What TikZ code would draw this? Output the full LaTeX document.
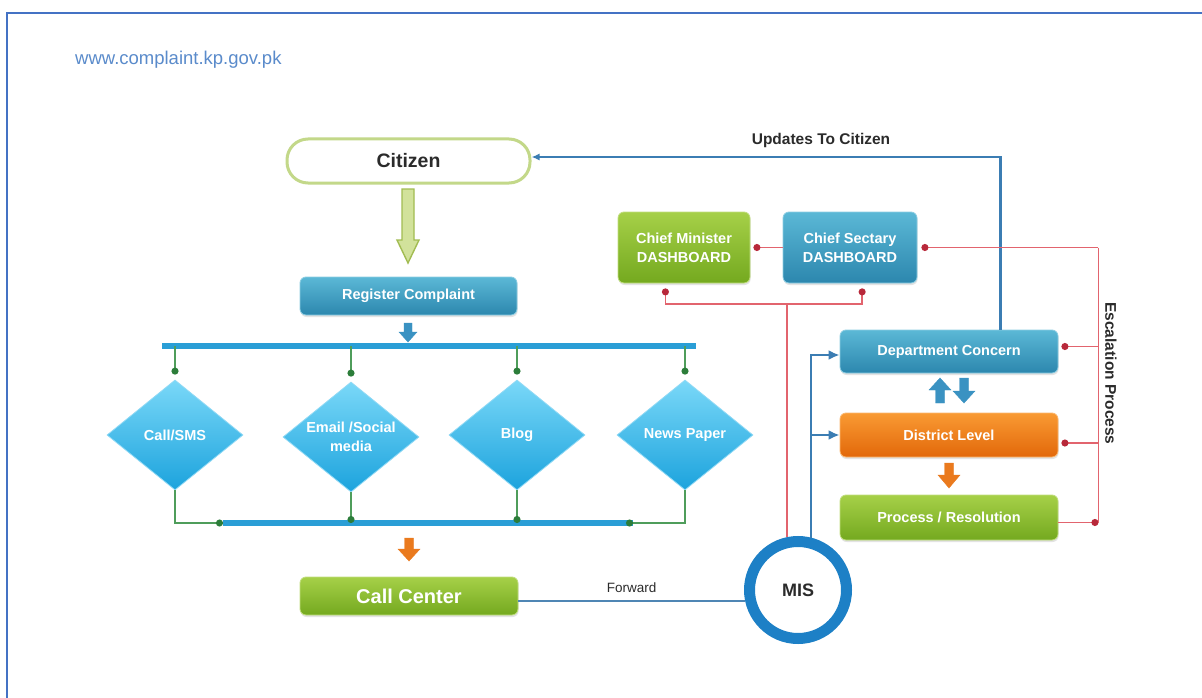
\documentclass[tikz,border=0pt]{standalone}
\usepackage{fontspec}
\setmainfont{Liberation Sans}
\usetikzlibrary{arrows.meta,shapes.geometric,calc,shadows}

\definecolor{grTop}{HTML}{A6D048}
\definecolor{grBot}{HTML}{74A91F}
\definecolor{blTop}{HTML}{5BB8D6}
\definecolor{blBot}{HTML}{2C87AE}
\definecolor{orTop}{HTML}{F99A33}
\definecolor{orBot}{HTML}{E2680A}
\definecolor{dmTop}{HTML}{7AD8F8}
\definecolor{dmBot}{HTML}{1CA3DD}
\definecolor{dmEdge}{HTML}{8FD9F5}
\definecolor{busBlue}{HTML}{2A9ED6}
\definecolor{linkBlue}{HTML}{3B7DB3}
\definecolor{fwdBlue}{HTML}{4F86B4}
\definecolor{escRed}{HTML}{E2646E}
\definecolor{dotRed}{HTML}{B8283A}
\definecolor{linkGreen}{HTML}{4F9D5B}
\definecolor{dotGreen}{HTML}{2C7D3A}
\definecolor{frameBlue}{HTML}{4472C4}
\definecolor{urlBlue}{HTML}{5A8BCB}
\definecolor{citEdge}{HTML}{C3D889}
\definecolor{misBlue}{HTML}{1D80C6}
\definecolor{txtDark}{HTML}{2B2B2B}
\definecolor{arrGreenFill}{HTML}{D2E29B}
\definecolor{arrGreenEdge}{HTML}{A2BC52}
\definecolor{arrBlue}{HTML}{3A92C2}
\definecolor{arrOrange}{HTML}{EA7A1E}

% block arrow: x, y start, y head base, y tip, shaft half width, head half width, style
\newcommand{\bkarrow}[7]{%
  \filldraw[#7] ({#1-#5},#2) -- ({#1+#5},#2) -- ({#1+#5},#3) -- ({#1+#6},#3)
    -- (#1,#4) -- ({#1-#6},#3) -- ({#1-#5},#3) -- cycle;}

\tikzset{
  lbl/.style={text=white, font=\fontsize{14.5}{19}\selectfont\bfseries, align=center},
  rbox/.style={lbl, rounded corners=6pt, inner sep=0pt, line width=0.8pt,
    drop shadow={shadow xshift=0.6pt, shadow yshift=-2pt, opacity=0.22}},
  greenbox/.style={rbox, top color=grTop, bottom color=grBot, draw=grTop!70!white},
  bluebox/.style={rbox, top color=blTop, bottom color=blBot, draw=blTop!70!white},
  orangebox/.style={rbox, top color=orTop, bottom color=orBot, draw=orTop!70!white},
  diam/.style={shape=diamond, minimum width=136pt, minimum height=110pt, inner sep=0pt,
    top color=dmTop, bottom color=dmBot, draw=dmEdge, line width=0.8pt},
  bus/.style={draw=busBlue, line width=5.5pt},
  glink/.style={draw=linkGreen, line width=1.6pt, -{Circle[length=7pt,color=dotGreen]}},
  redline/.style={draw=escRed, line width=1.7pt},
  rlink/.style={redline, -{Circle[length=7pt,color=dotRed]}},
  blink/.style={draw=linkBlue, line width=2.6pt, -{Latex[length=11pt,width=10pt]}},
  boldtxt/.style={text=txtDark, font=\fontsize{15.5}{19}\selectfont\bfseries}
}

\begin{document}
\begin{tikzpicture}[x=1pt,y=-1pt]
\useasboundingbox (0,0) rectangle (1202,698);
\fill[white] (0,0) rectangle (1202,698);

% page frame and address
\draw[frameBlue, line width=1.5pt] (7,698) -- (7,13) -- (1202,13);
\node[anchor=west, text=urlBlue, font=\fontsize{18.5}{22}\selectfont, inner sep=0pt] (url) at (75,60) {www.complaint.kp.gov.pk};

% left column
\node[draw=citEdge, line width=3pt, fill=white, rounded corners=21pt, minimum width=243pt,
      minimum height=44pt, text=txtDark, font=\fontsize{19.5}{23}\selectfont\bfseries] (cit) at (408.5,161) {Citizen};
\bkarrow{408}{189}{240}{263}{6}{11}{fill=arrGreenFill, draw=arrGreenEdge, line width=1.4pt}

\node[bluebox, minimum width=217pt, minimum height=38pt] (reg) at (408.5,296) {Register Complaint};
\bkarrow{408}{323}{332}{342}{4}{9}{fill=arrBlue, draw=arrBlue}

% channel buses
\coordinate (bt1) at (162,346);
\coordinate (bt2) at (696,346);
\coordinate (bb1) at (223,523);
\coordinate (bb2) at (633,523);
\draw[bus] (bt1) -- (bt2);
\draw[bus] (bb1) -- (bb2);

% channels
\node[diam] (d1) at (175,435) {};
\node[diam] (d2) at (351,437) {};
\node[diam] (d3) at (517,435) {};
\node[diam] (d4) at (685,435) {};
\node[lbl] (d1t) at (d1) {Call/SMS};
\node[lbl] (d2t) at (d2) {Email /Social\\media};
\node[lbl] (d3t) at (d3) {Blog};
\node[lbl] (d4t) at (d4) {News Paper};

\foreach \d in {d1,d2,d3,d4}
  \draw[glink, shorten >=5pt] (\d.north |- bt1) -- (\d.north);
\draw[glink] (d1.south) |- (bb1);
\draw[glink] (d2.south) -- (d2.south |- bb1);
\draw[glink] (d3.south) -- (d3.south |- bb1);
\draw[glink, shorten >=-7pt] (d4.south) |- (bb2);

\bkarrow{409}{538}{549}{561}{4.5}{11}{fill=arrOrange, draw=arrOrange}
\node[greenbox, minimum width=218pt, minimum height=38pt,
      font=\fontsize{20}{24}\selectfont\bfseries] (cc) at (409,596) {Call Center};

% MIS
\node[circle, draw=misBlue, line width=11pt, fill=white, minimum size=97pt, inner sep=0pt,
      text=txtDark, font=\fontsize{18}{22}\selectfont\bfseries] (mis) at (798,590) {MIS};
\coordinate (ccR) at ($(cc.east)+(0,5)$);
\coordinate (misL) at ($(mis.west)+(1,11)$);
\draw[fwdBlue, line width=2.8pt] (ccR) -- node[above=4pt, text=txtDark,
      font=\fontsize{13.5}{16}\selectfont] (fwd) {Forward} (misL);

% dashboards
\node[greenbox, minimum width=132pt, minimum height=71pt] (cm) at (684,247.5) {Chief Minister\\DASHBOARD};
\node[bluebox, minimum width=134pt, minimum height=71pt] (cs) at (850,247.5) {Chief Sectary\\DASHBOARD};
\draw[rlink, shorten >=3pt] (cs.west) -- (cm.east);

\draw[redline] (mis.102) -- ++(0,-233) coordinate (rj);
\coordinate (cmfoot) at ($(cm.south west)!0.36!(cm.south east)$);
\coordinate (csfoot) at ($(cs.south west)!0.59!(cs.south east)$);
\draw[rlink, shorten >=5pt] (rj) -| (cmfoot);
\draw[rlink, shorten >=5pt] (rj) -| (csfoot);

% department chain
\node[bluebox, minimum width=218pt, minimum height=43pt] (dc) at (949,351.5) {Department Concern};
\node[orangebox, minimum width=218pt, minimum height=44pt] (dl) at (949,435) {District Level};
\node[greenbox, minimum width=218pt, minimum height=45pt] (pr) at (949,517.5) {Process / Resolution};

\bkarrow{940}{403}{390}{378}{4.5}{11}{fill=arrBlue, draw=arrBlue}
\bkarrow{964}{378}{391}{403}{4.5}{11}{fill=arrBlue, draw=arrBlue}
\bkarrow{949}{463}{475}{488}{4.5}{11}{fill=arrOrange, draw=arrOrange}

% MIS feeding the department chain
\coordinate (dcL) at ($(dc.west)+(0,3.5)$);
\draw[blink] (mis.76) |- (dcL);
\draw[blink] (mis.76 |- dl.west) -- (dl.west);

% updates back to the citizen
\coordinate (dcT) at ($(dc.north west)!0.734!(dc.north east)$);
\coordinate (citR) at ($(cit.east)+(0,-4)$);
\draw[draw=linkBlue, line width=2.6pt, -{Latex[length=8pt,width=7pt]}] (dcT) |- (citR);
\node[boldtxt] (upd) at (821,140) {Updates To Citizen};

% escalation
\coordinate (prR) at ($(pr.east)+(0,5)$);
\draw[rlink] (prR) -- ++(40,0) coordinate (escb);
\coordinate (dcR) at ($(dc.east)+(0,-5)$);
\coordinate (dlR) at ($(dl.east)+(0,8)$);
\draw[redline] (escb) -- (escb |- cs.east);
\draw[rlink, shorten >=4pt] (escb |- cs.east) -- (cs.east);
\draw[rlink, shorten >=3pt] (dcR -| escb) -- (dcR);
\draw[rlink, shorten >=3pt] (dlR -| escb) -- (dlR);
\node[boldtxt, rotate=-90] (esc) at (1111,373.5) {Escalation Process};
\end{tikzpicture}
\end{document}
